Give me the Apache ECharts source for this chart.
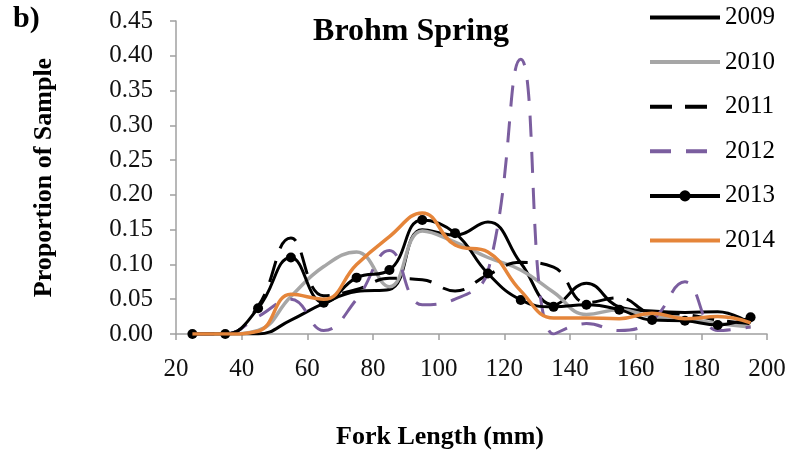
<!DOCTYPE html>
<html>
<head>
<meta charset="utf-8">
<script src="https://cdn.jsdelivr.net/npm/echarts@6/dist/echarts.min.js"></script>
<style>
  html, body { margin: 0; padding: 0; background: #fff; }
  #chart { width: 791px; height: 452px; }
</style>
</head>
<body>
<div id="chart"></div>
<script>
// fork length bin midpoints (mm)
var bins = [25, 35, 45, 55, 65, 75, 85, 95, 105, 115, 125, 135, 145, 155, 165, 175, 185, 195];
var xTicks = [20, 40, 60, 80, 100, 120, 140, 160, 180, 200];
var yTicks = [0, 0.05, 0.10, 0.15, 0.20, 0.25, 0.30, 0.35, 0.40, 0.45];

// proportion of sample for each year
var y2009 = [0, 0, 0, 0.02, 0.044, 0.061, 0.064, 0.15, 0.142, 0.161, 0.102, 0.042, 0.073, 0.039, 0.033, 0.031, 0.032, 0.015];
var y2010 = [0, 0, 0.005, 0.054, 0.097, 0.118, 0.068, 0.148, 0.132, 0.11, 0.092, 0.06, 0.028, 0.035, 0.025, 0.022, 0.015, 0.01];
var y2011 = [0, 0, 0.04, 0.138, 0.055, 0.064, 0.08, 0.078, 0.062, 0.085, 0.103, 0.096, 0.045, 0.052, 0.03, 0.028, 0.02, 0.015];
var y2012 = [0, 0, 0.025, 0.05, 0.005, 0.05, 0.12, 0.042, 0.05, 0.09, 0.395, 0, 0.015, 0.005, 0.02, 0.075, 0.005, 0.01];
var y2013 = [0, 0, 0.037, 0.11, 0.045, 0.081, 0.092, 0.164, 0.145, 0.087, 0.049, 0.039, 0.042, 0.035, 0.02, 0.019, 0.013, 0.024];
var y2014 = [0, 0, 0.004, 0.057, 0.05, 0.1, 0.14, 0.174, 0.128, 0.118, 0.062, 0.023, 0.023, 0.022, 0.03, 0.022, 0.025, 0.016];

var years = ['2009', '2010', '2011', '2012', '2013', '2014'];
var values = [y2009, y2010, y2011, y2012, y2013, y2014];
var colors = ['#000000', '#a6a6a6', '#000000', '#7b5e9f', '#000000', '#e5853a'];
var dashes = ['solid', 'solid', [22, 13], [21, 15], 'solid', 'solid'];
var widths = [3, 3.5, 3, 3, 3, 3.5];

var serif = '"Liberation Serif", "Times New Roman", serif';

function pairs(arr) {
  return bins.map(function (b, i) { return [b, arr[i]]; });
}

var series = years.map(function (name, i) {
  var hasMark = name === '2013';
  return {
    name: name,
    type: 'line',
    smooth: 0.45,
    data: pairs(values[i]),
    symbol: hasMark ? 'circle' : 'none',
    symbolSize: 10,
    showSymbol: hasMark,
    color: colors[i],
    lineStyle: { color: colors[i], width: widths[i], type: dashes[i] },
    itemStyle: { color: colors[i] },
    emphasis: { disabled: true },
    z: 2 + i
  };
});

// legend: only 2013 keeps its marker
var legendData = years.map(function (name) {
  if (name === '2013') return { name: name };
  return { name: name, itemStyle: { opacity: 0 } };
});

var chart = echarts.init(document.getElementById('chart'));
var option = {
  animation: false,
  backgroundColor: '#fff',
  title: {
    text: 'Brohm Spring',
    left: 406,
    top: 11,
    textAlign: 'center',
    textStyle: { fontFamily: serif, fontSize: 32, fontWeight: 'bold', color: '#000' }
  },
  legend: {
    orient: 'vertical',
    left: 643,
    top: 0,
    itemWidth: 70,
    itemHeight: 14,
    itemGap: 19.6,
    data: legendData,
    lineStyle: { width: 4 },
    textStyle: { fontFamily: serif, fontSize: 25, color: '#000', lineHeight: 25 }
  },
  grid: { left: 176, right: 24, top: 21, bottom: 118 },
  xAxis: {
    type: 'value',
    min: 20,
    max: 200,
    interval: 20,
    axisLine: { lineStyle: { color: '#a0a0a0', width: 1.5 } },
    axisTick: { show: true, length: 6, lineStyle: { color: '#a0a0a0', width: 1.5 } },
    axisLabel: {
      fontFamily: serif, fontSize: 25, color: '#111', margin: 23,
      formatter: function (v) { return xTicks.indexOf(v) >= 0 ? String(v) : ''; }
    },
    splitLine: { show: false }
  },
  yAxis: {
    type: 'value',
    min: 0,
    max: 0.45,
    interval: 0.05,
    name: 'Proportion of Sample',
    nameLocation: 'middle',
    nameGap: 119,
    nameTextStyle: { fontFamily: serif, fontSize: 26, fontWeight: 'bold', color: '#000' },
    axisLine: { show: true, lineStyle: { color: '#a0a0a0', width: 1.5 } },
    axisTick: { show: true, length: 6, lineStyle: { color: '#a0a0a0', width: 1.5 } },
    axisLabel: {
      fontFamily: serif, fontSize: 25, color: '#111', margin: 23, padding: [5, 0, 0, 0],
      formatter: function (v) {
        var hit = yTicks.some(function (t) { return Math.abs(t - v) < 1e-9; });
        return hit ? v.toFixed(2) : '';
      }
    },
    splitLine: { show: false }
  },
  graphic: [{
    type: 'text',
    left: 13,
    top: 4,
    style: { text: 'b)', fontFamily: serif, fontSize: 30, fontWeight: 'bold', fill: '#000' }
  }, {
    type: 'text',
    x: 440,
    y: 437,
    style: {
      text: 'Fork Length (mm)', fontFamily: serif, fontSize: 26, fontWeight: 'bold',
      fill: '#000', align: 'center', verticalAlign: 'middle'
    }
  }],
  series: series
};
chart.setOption(option);
</script>
</body>
</html>
